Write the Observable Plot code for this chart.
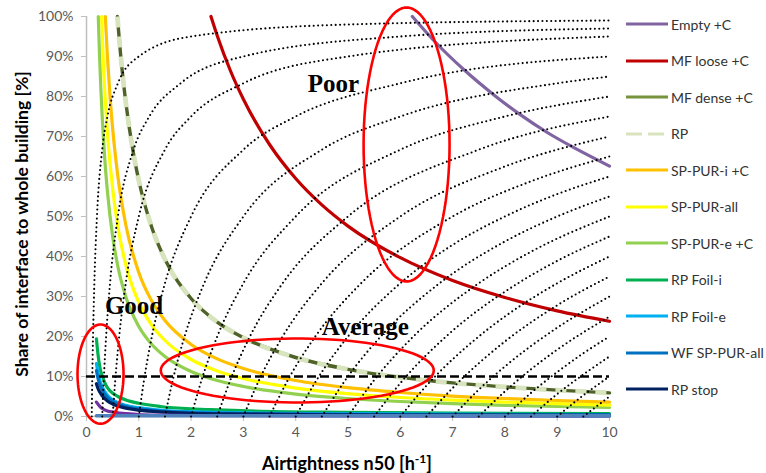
<!DOCTYPE html>
<html><head><meta charset="utf-8">
<script src="https://cdn.jsdelivr.net/npm/d3@7"></script>
<script src="https://cdn.jsdelivr.net/npm/@observablehq/plot@0.6"></script>
<style>
body{margin:0;background:#fff;}
#wrap{position:relative;width:766px;height:473px;overflow:hidden;}
#legend{position:absolute;left:626px;top:0;width:140px;height:473px;font-family:Lato,"Liberation Sans",sans-serif;font-size:14px;color:#333;}
.row{position:absolute;left:0;height:20px;display:flex;align-items:center;white-space:nowrap;}
.row span{margin-left:3px;}
</style></head><body><div id="wrap"><div id="legend"></div></div>
<script>
// ---- axis ticks ----
const xTicks = [0,1,2,3,4,5,6,7,8,9,10];
const yTicks = [0,10,20,30,40,50,60,70,80,90,100];

// ---- legend ----
const legendNames = ["Empty +C","MF loose +C","MF dense +C","RP","SP-PUR-i +C","SP-PUR-all","SP-PUR-e +C","RP Foil-i","RP Foil-e","WF SP-PUR-all","RP stop"];
const legendColors = ["#8064a2","#c00000","#77933c","#d7e4bd","#ffc000","#ffff00","#92d050","#00b050","#00b0f0","#0070c0","#002060"];

// ---- series: [n50, share %] ----
const emptyC   = [[6.23,100],[6.64,94],[7.25,86.3],[7.79,80.4],[8.3,75.4],[8.81,71],[9.32,67.2],[10,62.6]];
const mfLoose  = [[2.38,100],[2.5,95.2],[2.75,86.5],[3,79.3],[3.5,68],[4,59.5],[4.5,52.9],[5,47.6],[6,39.7],[7,34],[8,29.75],[9,26.4],[10,23.8]];
const mfDense  = [[0.59,100],[0.65,90.8],[0.75,78.7],[0.9,65.6],[1,59],[1.25,47.2],[1.5,39.3],[2,29.5],[2.5,23.6],[3,19.7],[4,14.75],[5,11.8],[6,9.8],[7,8.4],[8,7.4],[9,6.6],[10,5.9]];
const rpSeries = [[0.59,100],[0.65,90.8],[0.75,78.7],[0.9,65.6],[1,59],[1.25,47.2],[1.5,39.3],[2,29.5],[2.5,23.6],[3,19.7],[4,14.75],[5,11.8],[6,9.8],[7,8.4],[8,7.4],[9,6.6],[10,5.9]];
const spPurI   = [[0.36,100],[0.4,90],[0.45,80],[0.5,72],[0.6,60],[0.75,48],[1,36],[1.25,28.8],[1.5,24],[2,18],[2.5,14.4],[3,12],[4,9],[5,7.2],[6,6],[7,5.1],[8,4.5],[9,4],[10,3.6]];
const spPurAll = [[0.29,100],[0.32,89],[0.36,79],[0.4,71],[0.5,57],[0.6,47.5],[0.75,38],[1,28.5],[1.25,22.8],[1.5,19],[2,14.25],[2.5,11.4],[3,9.5],[4,7.1],[5,5.7],[6,4.75],[7,4.1],[8,3.6],[9,3.2],[10,2.85]];
const spPurE   = [[0.225,100],[0.25,90],[0.3,75],[0.35,64.3],[0.4,56.3],[0.5,45],[0.6,37.5],[0.75,30],[1,22.5],[1.25,18],[1.5,15],[2,11.25],[2.5,9],[3,7.5],[4,5.6],[5,4.5],[6,3.75],[7,3.2],[8,2.8],[9,2.5],[10,2.25]];
const rpFoilI  = [[0.19,19.4],[0.22,15.5],[0.26,12],[0.3,10.2],[0.38,7.6],[0.46,6.3],[0.6,5],[0.78,4],[1,3.3],[1.41,2.5],[2,1.9],[2.37,1.7],[3.33,1.3],[5,1.05],[7,0.85],[10,0.7]];
const rpFoilE  = [[0.19,13.2],[0.22,11],[0.26,8.8],[0.3,7.4],[0.4,5.3],[0.5,4.2],[0.75,2.8],[1,2.2],[1.5,1.5],[2,1.2],[3,0.9],[5,0.7],[7,0.6],[10,0.5]];
const wfSpPur  = [[0.19,11.5],[0.22,9.5],[0.26,7.8],[0.3,6.6],[0.4,4.8],[0.5,3.8],[0.75,2.5],[1,1.9],[1.5,1.3],[2,1],[3,0.75],[5,0.55],[7,0.45],[10,0.4]];
const rpStop   = [[0.19,8.2],[0.22,7],[0.26,6],[0.3,5.2],[0.4,3.9],[0.5,3.1],[0.75,2.1],[1,1.6],[1.5,1.1],[2,0.8],[3,0.6],[5,0.4],[7,0.35],[10,0.3]];
const extraPurple = [[0.19,3.6],[0.25,2.6],[0.3,2],[0.4,1.4],[0.52,1.1],[0.75,0.7],[1,0.5],[1.41,0.35],[2,0.25],[3,0.2],[5,0.15],[10,0.1]];
const extraSteel  = [[0.19,0.2],[10,0.15]];

// ---- dotted iso-lines ----
const isoLines = [
  [[0.1,0],[0.11,9.1],[0.125,20],[0.15,33.3],[0.2,50],[0.3,66.7],[0.4,75],[0.6,83.3],[1,90],[2,95],[5,98],[10,99]],
  [[0.3,0],[0.33,9.1],[0.375,20],[0.45,33.3],[0.6,50],[0.9,66.7],[1.2,75],[1.8,83.3],[3,90],[6,95],[10,97]],
  [[0.5,0],[0.55,9.1],[0.625,20],[0.75,33.3],[1,50],[1.5,66.7],[2,75],[3,83.3],[5,90],[10,95]],
  [[1,0],[1.1,9.1],[1.25,20],[1.5,33.3],[2,50],[3,66.7],[4,75],[6,83.3],[10,90]],
  [[1.5,0],[1.65,9.1],[1.875,20],[2.25,33.3],[3,50],[4.5,66.7],[6,75],[9,83.3],[10,85]],
  [[2,0],[2.2,9.1],[2.5,20],[3,33.3],[4,50],[6,66.7],[8,75],[10,80]],
  [[2.5,0],[2.75,9.1],[3.125,20],[3.75,33.3],[5,50],[7.5,66.7],[10,75]],
  [[3,0],[3.3,9.1],[3.75,20],[4.5,33.3],[6,50],[8,62.5],[10,70]],
  [[3.5,0],[3.85,9.1],[4.375,20],[5.25,33.3],[7,50],[8.5,58.8],[10,65]],
  [[4,0],[4.4,9.1],[5,20],[6,33.3],[7,42.9],[8,50],[9,55.6],[10,60]],
  [[4.5,0],[4.95,9.1],[5.625,20],[6.75,33.3],[8,43.75],[9,50],[10,55]],
  [[5,0],[5.5,9.1],[6.25,20],[7.5,33.3],[8.5,41.2],[10,50]],
  [[5.5,0],[6.05,9.1],[6.875,20],[8.25,33.3],[9,38.9],[10,45]],
  [[6,0],[6.5,7.7],[7.5,20],[8,25],[9,33.3],[10,40]],
  [[6.5,0],[7,7.1],[8,18.75],[9,27.8],[10,35]],
  [[7,0],[7.5,6.7],[8,12.5],[9,22.2],[10,30]],
  [[7.5,0],[8,6.25],[8.5,11.8],[9,16.7],[10,25]],
  [[8,0],[8.5,5.9],[9,11.1],[9.5,15.8],[10,20]],
  [[8.5,0],[9,5.6],[9.5,10.5],[10,15]],
  [[9,0],[9.5,5.3],[10,10]],
  [[9.5,0],[10,5]]
];

const thresholdShare = [10];

// ---- annotations (data units) ----
const zoneEllipses = [
  {cx:0.268, cy:10.6, rx:0.44, ry:12.4},
  {cx:4.03,  cy:11.5, rx:2.61, ry:8.0},
  {cx:6.12,  cy:68,   rx:0.822, ry:34.25}
];
const zoneLabels = [
  {x:4.72, y:83.2, text:"Poor"},
  {x:0.91, y:27.6, text:"Good"},
  {x:5.33, y:22.4, text:"Average"}
];

const ellipsePath = e => d3.range(0, 361, 4).map(a => {
  const t = a * Math.PI / 180;
  return [e.cx + e.rx * Math.cos(t), e.cy + e.ry * Math.sin(t)];
});

const lineOpts = (color, w = 3.2) => ({stroke: color, strokeWidth: w, curve: "monotone-x"});

const chart = Plot.plot({
  width: 766, height: 473,
  marginLeft: 86, marginRight: 157, marginTop: 16, marginBottom: 57,
  x: {domain: [0, 10]},
  y: {domain: [0, 100]},
  style: {fontFamily: "Lato, 'Liberation Sans', sans-serif", fontSize: "14px", color: "#595959", background: "transparent", overflow: "visible"},
  marks: [
    Plot.ruleX([0], {stroke: "#bfbfbf", strokeWidth: 1.5}),
    Plot.ruleY([0], {stroke: "#bfbfbf", strokeWidth: 1.5}),
    Plot.axisY(yTicks, {tickSize: 5, tickPadding: 8, stroke: "#bfbfbf", fill: "#595959", tickFormat: d => d + "%", label: null}),
    Plot.axisX(xTicks, {tickSize: 5, tickPadding: 6, stroke: "#bfbfbf", fill: "#595959", label: null}),
    Plot.line(emptyC, lineOpts("#8064a2")),
    Plot.line(mfLoose, lineOpts("#c00000")),
    Plot.line(spPurE, lineOpts("#92d050")),
    Plot.line(spPurAll, lineOpts("#ffff00")),
    Plot.line(spPurI, lineOpts("#ffc000")),
    Plot.line(mfDense, lineOpts("#4f6228", 3.4)),
    Plot.line(rpSeries, {...lineOpts("#d7e4bd", 4.8), strokeDasharray: "11,9", strokeLinecap: "butt"}),
    Plot.line(rpFoilI, lineOpts("#00b050")),
    Plot.line(rpFoilE, lineOpts("#00b0f0")),
    Plot.line(wfSpPur, lineOpts("#0070c0")),
    Plot.line(rpStop, lineOpts("#002060")),
    Plot.line(extraPurple, lineOpts("#7030a0")),
    Plot.line(extraSteel, lineOpts("#4f81bd", 3.6)),
    ...isoLines.map(pts => Plot.line(pts, {stroke: "#000", strokeWidth: 2.1, strokeDasharray: "0,4.4", strokeLinecap: "round", curve: "monotone-x"})),
    Plot.ruleY(thresholdShare, {stroke: "#000", strokeWidth: 2.6, strokeDasharray: "9,4"}),
    ...zoneEllipses.map(e => Plot.line(ellipsePath(e), {stroke: "#ff0000", strokeWidth: 2.6, curve: "linear-closed"})),
    Plot.text(zoneLabels, {x: "x", y: "y", text: "text", fontFamily: "'Liberation Serif', 'Times New Roman', serif", fontWeight: "bold", fontSize: 25, fill: "#000", textAnchor: "middle", lineAnchor: "middle"})
  ]
});

const wrap = document.getElementById("wrap");
wrap.insertBefore(chart, wrap.firstChild);

// axis titles
const svg = d3.select(chart);
svg.append("text")
  .attr("transform", "translate(28,224) rotate(-90)")
  .attr("text-anchor", "middle")
  .attr("font-family", "Lato, 'Liberation Sans', sans-serif")
  .attr("font-weight", "bold").attr("font-size", 17.5).attr("fill", "#000")
  .text("Share of interface to whole building [%]");
const xt = svg.append("text")
  .attr("x", 347).attr("y", 470)
  .attr("text-anchor", "middle")
  .attr("font-family", "Lato, 'Liberation Sans', sans-serif")
  .attr("font-weight", "bold").attr("font-size", 18).attr("fill", "#000");
xt.append("tspan").text("Airtightness n50 [h");
xt.append("tspan").attr("dy", -7).attr("font-size", 12).text("-1");
xt.append("tspan").attr("dy", 7).text("]");

// legend
const legend = document.getElementById("legend");
legendNames.forEach((name, i) => {
  const row = document.createElement("div");
  row.className = "row";
  row.style.top = (14 + 36.5 * i) + "px";
  const dash = name === "RP" ? ' stroke-dasharray="16,6"' : "";
  row.innerHTML = `<svg width="42" height="8"><line x1="0" x2="42" y1="4" y2="4" stroke="${legendColors[i]}" stroke-width="3.2"${dash}/></svg><span>${name}</span>`;
  legend.appendChild(row);
});
</script>
</body></html>
